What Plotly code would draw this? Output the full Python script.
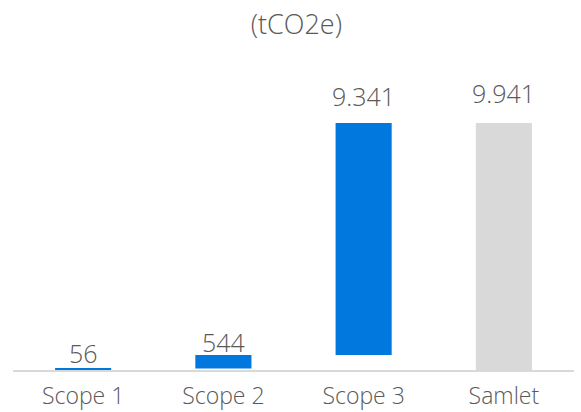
import plotly.graph_objects as go

categories = ["Scope 1", "Scope 2", "Scope 3", "Samlet"]
values = [56, 544, 9341, 9941]
measures = ["relative", "relative", "relative", "total"]
labels = ["56", "544", "9.341", "9.941"]
label_shift_px = [-3, -6, 8, 11]  # style: vertical nudge of each value label

FONT = "Open Sans, Roboto, sans-serif"
GREY = "#595959"

fig = go.Figure(go.Waterfall(
    x=categories,
    y=values,
    measure=measures,
    increasing=dict(marker=dict(color="#0078DE")),
    decreasing=dict(marker=dict(color="#0078DE")),
    totals=dict(marker=dict(color="#D9D9D9")),
    connector=dict(visible=False),
    width=0.4,
))

# label positions at the top of each bar (cumulative for relative steps)
tops = []
running = 0
for v, m in zip(values, measures):
    if m == "total":
        tops.append(v)
    else:
        running += v
        tops.append(running)

for c, t, lab, s in zip(categories, tops, labels, label_shift_px):
    fig.add_annotation(x=c, y=t, text=lab, showarrow=False, yanchor="bottom", yshift=s,
                       font=dict(size=25, color=GREY, family=FONT, weight=300))

fig.update_layout(
    width=581, height=412,
    margin=dict(l=13, r=7, t=60, b=42),
    paper_bgcolor="white", plot_bgcolor="white",
    title=dict(text="(tCO2e)", x=0.51, xanchor="center", y=0.94, yanchor="middle",
               font=dict(size=27, color=GREY, family=FONT, weight=300)),
    showlegend=False,
    xaxis=dict(showline=True, linecolor="#D9D9D9", linewidth=2, ticks="",
               automargin=False, ticklabelstandoff=4,
               tickfont=dict(size=23, color=GREY, family=FONT, weight=300)),
    yaxis=dict(visible=False, range=[0, 12477], showgrid=False, zeroline=False,
               automargin=False),
)

fig.write_html("out.html")
